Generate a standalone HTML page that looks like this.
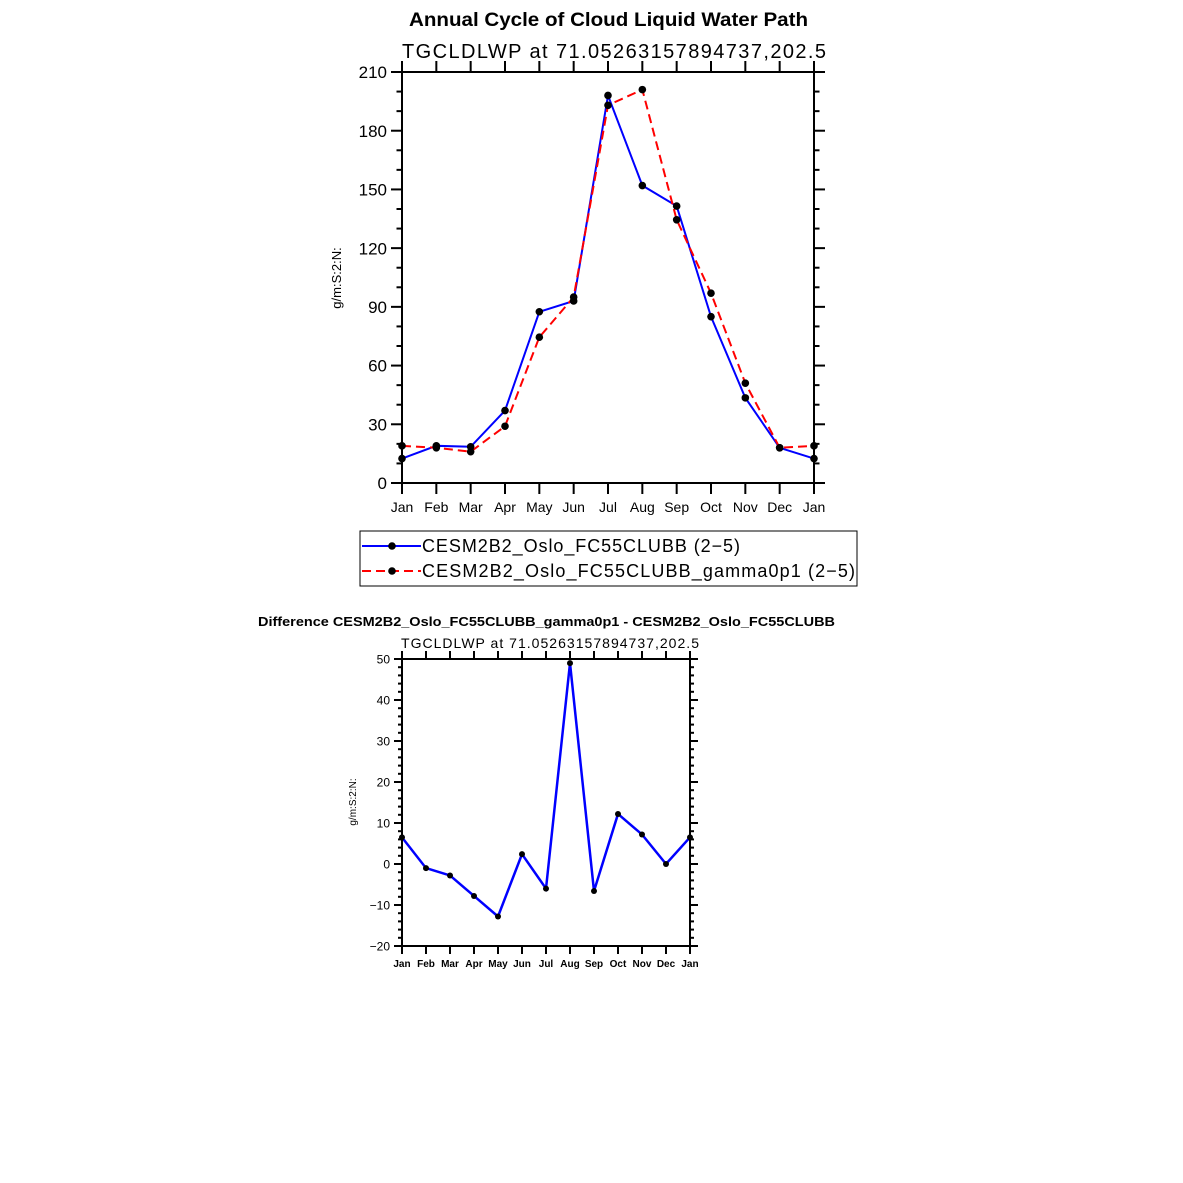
<!DOCTYPE html>
<html><head><meta charset="utf-8"><style>
html,body{margin:0;padding:0;background:#fff;}
svg{display:block;font-family:"Liberation Sans",sans-serif;}
</style></head><body>
<svg id="s" width="1183" height="1183" xmlns="http://www.w3.org/2000/svg"></svg>
<script>
const S=document.getElementById('s');let h='';
const mon=['Jan','Feb','Mar','Apr','May','Jun','Jul','Aug','Sep','Oct','Nov','Dec','Jan'];
function plot(o){
 const {L,R,T,B,ymin,ymax,major,minor,fs,lw,tl,ms,xfs,xw}=o;
 const X=i=>L+(R-L)*i/12, Y=v=>B-(B-T)*(v-ymin)/(ymax-ymin);
 for(let v=ymin;v<=ymax+1e-9;v+=minor){
  const y=Y(v);const isM=Math.abs((v-ymin)/major-Math.round((v-ymin)/major))<1e-6;
  const len=isM?tl:tl/2;
  h+=`<line x1="${L-len}" y1="${y}" x2="${L}" y2="${y}" stroke="#000" stroke-width="${lw}"/>`;
  h+=`<line x1="${R}" y1="${y}" x2="${R+len}" y2="${y}" stroke="#000" stroke-width="${lw}"/>`;
  if(isM)h+=`<text x="${L-len-4}" y="${y+fs*0.36}" font-size="${fs}" text-anchor="end">${v<0?'\u2212'+(-v):v}</text>`;
 }
 for(let i=0;i<=12;i++){const x=X(i);
  h+=`<line x1="${x}" y1="${B}" x2="${x}" y2="${B+tl}" stroke="#000" stroke-width="${lw}"/>`;
  h+=`<line x1="${x}" y1="${T-tl}" x2="${x}" y2="${T}" stroke="#000" stroke-width="${lw}"/>`;
  h+=`<text x="${x}" y="${B+tl+xfs*1.3}" font-size="${xfs}" font-weight="${xw}" text-anchor="middle">${mon[i]}</text>`;
 }
 for(const s of o.series){
  const pts=s.d.map((v,i)=>X(i)+','+Y(v)).join(' ');
  h+=`<polyline points="${pts}" fill="none" stroke="${s.c}" stroke-width="${s.w}" ${s.dash?'stroke-dasharray="'+s.dash+'"':''}/>`;
 }
 for(const s of o.series) s.d.forEach((v,i)=>{h+=`<circle cx="${X(i)}" cy="${Y(v)}" r="${ms}" fill="#000"/>`;});
 h+=`<rect x="${L}" y="${T}" width="${R-L}" height="${B-T}" fill="none" stroke="#000" stroke-width="${lw}"/>`;
}
const blue=[12.5,19,18.5,37,87.5,93,198,152,141.5,85,43.5,18,12.5];
const red=[19,18,16,29,74.5,95,193,201,134.5,97,51,18,19];
plot({L:402,R:814,T:72,B:483,ymin:0,ymax:210,major:30,minor:10,fs:17,lw:2,tl:11,ms:3.8,xfs:14,xw:'normal',
 series:[{d:blue,c:'#0000ff',w:2},{d:red,c:'#ff0000',w:2,dash:'9,5'}]});
const diff=[6.5,-1,-2.8,-7.8,-12.8,2.4,-6,49,-6.6,12.2,7.2,0,6.5];
plot({L:402,R:690,T:659,B:946,ymin:-20,ymax:50,major:10,minor:2,fs:12,lw:2,tl:8,ms:3,xfs:10,xw:'bold',
 series:[{d:diff,c:'#0000ff',w:2.5}]});
h+=`<text x="409" y="26" font-size="19" font-weight="bold" textLength="399" lengthAdjust="spacingAndGlyphs">Annual Cycle of Cloud Liquid Water Path</text>`;
h+=`<text x="614" y="58" font-size="20" text-anchor="middle" textLength="424">TGCLDLWP at 71.05263157894737,202.5</text>`;
h+=`<text transform="translate(341,278) rotate(-90)" font-size="13" text-anchor="middle">g/m:S:2:N:</text>`;
h+=`<rect x="360" y="531" width="497" height="55" fill="none" stroke="#000" stroke-width="1"/>`;
h+=`<line x1="362" y1="546" x2="421" y2="546" stroke="#0000ff" stroke-width="2"/><circle cx="392" cy="546" r="3.8"/>`;
h+=`<line x1="362" y1="571" x2="421" y2="571" stroke="#ff0000" stroke-width="2" stroke-dasharray="9,5"/><circle cx="392" cy="571" r="3.8"/>`;
h+=`<text x="422" y="552" font-size="18" textLength="318">CESM2B2_Oslo_FC55CLUBB (2\u22125)</text>`;
h+=`<text x="422" y="577" font-size="18" textLength="433">CESM2B2_Oslo_FC55CLUBB_gamma0p1 (2\u22125)</text>`;
h+=`<text x="258" y="626" font-size="13" font-weight="bold" textLength="577" lengthAdjust="spacingAndGlyphs">Difference CESM2B2_Oslo_FC55CLUBB_gamma0p1 - CESM2B2_Oslo_FC55CLUBB</text>`;
h+=`<text x="550" y="648" font-size="14" text-anchor="middle" textLength="298">TGCLDLWP at 71.05263157894737,202.5</text>`;
h+=`<text transform="translate(356,802) rotate(-90)" font-size="10" text-anchor="middle">g/m:S:2:N:</text>`;
S.innerHTML=h;
</script>
</body></html>
